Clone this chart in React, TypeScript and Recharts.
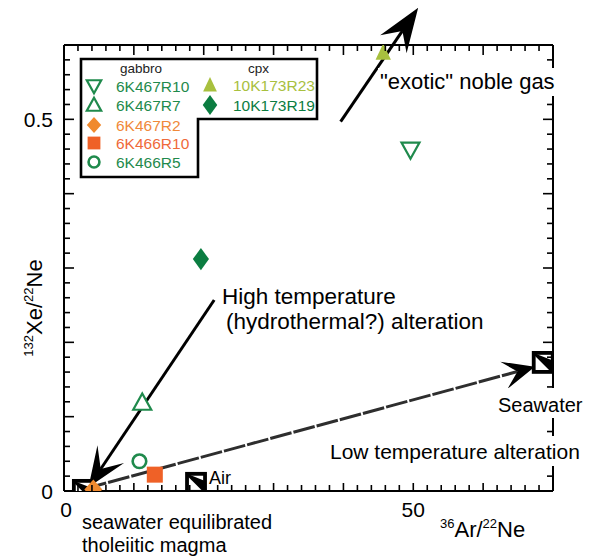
import React from 'react';
import { ScatterChart, Scatter, XAxis, YAxis, ReferenceLine } from 'recharts';

const W = 590;
const H = 558;
const FONT = '"Liberation Sans", Arial, Helvetica, sans-serif';
const NARROW = '"Liberation Sans Narrow", "Arial Narrow", "Liberation Sans", Arial, sans-serif';

// ---- data (x = 36Ar/22Ne, y = 132Xe/22Ne) ----
const gabbro6K467R10 = [{ x: 49.6, y: 0.459 }];
const gabbro6K467R7 = [{ x: 11.2, y: 0.119 }];
const gabbro6K467R2 = [{ x: 4.2, y: 0.002 }];
const gabbro6K466R10 = [{ x: 13.0, y: 0.022 }];
const gabbro6K466R5 = [{ x: 10.8, y: 0.04 }];
const cpx10K173R23 = [{ x: 45.7, y: 0.59 }];
const cpx10K173R19 = [{ x: 19.6, y: 0.312 }];

const endMemberMagma = [{ x: 2.7, y: 0.0015 }];
const endMemberAir = [{ x: 18.9, y: 0.011 }];
const endMemberSeawater = [{ x: 68.6, y: 0.173 }];

// arrows: [start, tip]
const lowTempArrow = [{ x: 3.0, y: 0.003 }, { x: 67.4, y: 0.167 }];
const highTempArrow = [{ x: 21.5, y: 0.257 }, { x: 3.5, y: 0.005 }];
const exoticArrow = [{ x: 39.6, y: 0.497 }, { x: 50.7, y: 0.65 }];

// axes
const xDomain = [0, 70];
const yDomain = [0, 0.6];
const xTickStep = 2;
const yTickStep = 0.02;
const xLabelTicks = [0, 50];
const yLabelTicks = [0, 0.5];

const buildTicks = (max: number, step: number) => {
  const out: number[] = [];
  const n = Math.round(max / step);
  for (let i = 0; i <= n; i++) out.push(Number((i * step).toFixed(4)));
  return out;
};
const xTicks = buildTicks(xDomain[1], xTickStep);
const yTicks = buildTicks(yDomain[1], yTickStep);
const isMajor = (v: number, unit: number) => Math.abs(v / unit - Math.round(v / unit)) < 1e-6;

const GREEN = '#1f8a4c';
const ORANGE_D = '#f08a2e';
const ORANGE_S = '#ef6127';
const YGREEN = '#a8c03e';
const DGREEN = '#0b7d41';

type Kind = 'downOpen' | 'upOpen' | 'diamond' | 'square' | 'circleOpen' | 'upFill' | 'diamondTall' | 'ref';

const drawMarker = (kind: Kind, cx: number, cy: number, color: string, s: number) => {
  const h = s / 2;
  switch (kind) {
    case 'downOpen':
      return <polygon points={`${cx - h},${cy - h * 0.8} ${cx + h},${cy - h * 0.8} ${cx},${cy + h * 1.0}`} fill="#fff" stroke={color} strokeWidth={2.2} />;
    case 'upOpen':
      return <polygon points={`${cx - h},${cy + h * 0.8} ${cx + h},${cy + h * 0.8} ${cx},${cy - h * 1.0}`} fill="#fff" stroke={color} strokeWidth={2.2} />;
    case 'upFill':
      return <polygon points={`${cx - h * 0.85},${cy + h * 0.8} ${cx + h * 0.85},${cy + h * 0.8} ${cx},${cy - h * 1.0}`} fill={color} />;
    case 'diamond':
      return <polygon points={`${cx},${cy - h * 1.1} ${cx + h},${cy} ${cx},${cy + h * 1.1} ${cx - h},${cy}`} fill={color} />;
    case 'diamondTall':
      return <polygon points={`${cx},${cy - h * 1.3} ${cx + h * 0.95},${cy} ${cx},${cy + h * 1.3} ${cx - h * 0.95},${cy}`} fill={color} />;
    case 'square':
      return <rect x={cx - h} y={cy - h} width={s} height={s} fill={color} />;
    case 'circleOpen':
      return <circle cx={cx} cy={cy} r={h * 0.85} fill="#fff" stroke={color} strokeWidth={2.6} />;
    case 'ref':
      return (
        <g>
          <rect x={cx - h} y={cy - h} width={s} height={s} fill="#fff" stroke="#000" strokeWidth={3.8} />
          <polygon points={`${cx - h},${cy - h} ${cx + h},${cy + h} ${cx + h},${cy - h * 0.2}`} fill="#000" />
          <line x1={cx - h} y1={cy - h} x2={cx + h} y2={cy + h} stroke="#000" strokeWidth={2.5} />
        </g>
      );
  }
  return <g />;
};

const shapeOf = (kind: Kind, color: string, s: number) => (p: any) => {
  if (!Number.isFinite(p.cx) || !Number.isFinite(p.cy)) return <g />;
  return drawMarker(kind, p.cx, p.cy, color, s);
};

const series: { name: string; data: { x: number; y: number }[]; kind: Kind; color: string; size: number; text: string }[] = [
  { name: '6K467R10', data: gabbro6K467R10, kind: 'downOpen', color: GREEN, size: 18, text: GREEN },
  { name: '6K467R7', data: gabbro6K467R7, kind: 'upOpen', color: GREEN, size: 18, text: GREEN },
  { name: '6K467R2', data: gabbro6K467R2, kind: 'diamond', color: ORANGE_D, size: 18, text: '#f0893a' },
  { name: '6K466R10', data: gabbro6K466R10, kind: 'square', color: ORANGE_S, size: 16, text: '#ef6a3a' },
  { name: '6K466R5', data: gabbro6K466R5, kind: 'circleOpen', color: GREEN, size: 16, text: GREEN },
  { name: '10K173R23', data: cpx10K173R23, kind: 'upFill', color: YGREEN, size: 18, text: YGREEN },
  { name: '10K173R19', data: cpx10K173R19, kind: 'diamondTall', color: DGREEN, size: 17, text: DGREEN },
];

const makeArrow = (len: number, half: number, notch: number, width: number, color: string, headColor: string, dash?: string) => (p: any) => {
  const { x1, y1, x2, y2 } = p;
  if (![x1, y1, x2, y2].every((v: any) => Number.isFinite(v))) return <g />;
  const dx = x2 - x1;
  const dy = y2 - y1;
  const L = Math.hypot(dx, dy) || 1;
  const ux = dx / L;
  const uy = dy / L;
  const px = -uy;
  const py = ux;
  const bx = x2 - ux * len;
  const by = y2 - uy * len;
  const nx = x2 - ux * notch;
  const ny = y2 - uy * notch;
  const pts = `${x2},${y2} ${bx + px * half},${by + py * half} ${nx},${ny} ${bx - px * half},${by - py * half}`;
  return (
    <g>
      <line x1={x1} y1={y1} x2={nx} y2={ny} stroke={color} strokeWidth={width} strokeDasharray={dash} />
      <polygon points={pts} fill={headColor} />
    </g>
  );
};

const tickText = (v: number) => (v === 0 ? '0' : String(v));

const LeftTick = (p: any) => {
  const { x, y, payload } = p;
  const v = payload.value;
  const major = isMajor(v, 0.1);
  return (
    <g>
      <line x1={x} y1={y} x2={x + (major ? 10 : 6)} y2={y} stroke="#000" strokeWidth={1.6} />
      {yLabelTicks.includes(v) && (
        <text x={x - 11} y={y + 7.5} textAnchor="end" fontSize={21} fontFamily={FONT} fill="#000">
          {tickText(v)}
        </text>
      )}
    </g>
  );
};
const RightTick = (p: any) => {
  const { x, y, payload } = p;
  const major = isMajor(payload.value, 0.1);
  return <line x1={x} y1={y} x2={x - (major ? 10 : 6)} y2={y} stroke="#000" strokeWidth={1.6} />;
};
const BottomTick = (p: any) => {
  const { x, y, payload } = p;
  const v = payload.value;
  const major = isMajor(v, 10);
  return (
    <g>
      <line x1={x} y1={y} x2={x} y2={y - (major ? 8 : 6)} stroke="#000" strokeWidth={1.6} />
      {xLabelTicks.includes(v) && (
        <text x={x + (v === 0 ? 2 : 0)} y={y + 26} textAnchor="middle" fontSize={21} fontFamily={FONT} fill="#000">
          {tickText(v)}
        </text>
      )}
    </g>
  );
};
const TopTick = (p: any) => {
  const { x, y, payload } = p;
  const major = isMajor(payload.value, 10);
  return <line x1={x} y1={y} x2={x} y2={y + (major ? 10 : 6)} stroke="#000" strokeWidth={1.6} />;
};

const legendLeft = series.slice(0, 5);
const legendRight = series.slice(5);

const Overlay = () => (
  <svg width={W} height={H} style={{ position: 'absolute', left: 0, top: 0, pointerEvents: 'none' }}>
    {/* knock-out boxes behind texts crossing the frame */}
    <rect x={378} y={68} width={180} height={28} fill="#fff" />
    <rect x={495} y={388} width={90} height={30} fill="#fff" />
    <rect x={327} y={436} width={258} height={30} fill="#fff" />

    <text x={380} y={89} fontSize={22} fontFamily={FONT} fill="#000">"exotic" noble gas</text>
    <text x={222} y={304} fontSize={22.5} fontFamily={FONT} fill="#000">High temperature</text>
    <text x={226} y={329} fontSize={22.5} fontFamily={FONT} fill="#000">(hydrothermal?) alteration</text>
    <text x={498} y={412} fontSize={20} fontFamily={FONT} fill="#000">Seawater</text>
    <text x={330} y={459} fontSize={21} fontFamily={FONT} fill="#000">Low temperature alteration</text>
    <text x={209} y={484} fontSize={18} fontFamily={FONT} fill="#000">Air</text>
    <text x={82} y={529} fontSize={20} fontFamily={FONT} fill="#000">seawater equilibrated</text>
    <text x={82} y={552} fontSize={20} fontFamily={FONT} fill="#000">tholeiitic magma</text>

    {/* axis titles */}
    <text x={440} y={537} fontSize={22} fontFamily={FONT} fill="#000">
      <tspan fontSize={13} dy={-9}>36</tspan>
      <tspan dy={9}>Ar/</tspan>
      <tspan fontSize={13} dy={-9}>22</tspan>
      <tspan dy={9}>Ne</tspan>
    </text>
    <text x={0} y={0} transform="translate(42,308) rotate(-90)" textAnchor="middle" fontSize={22} fontFamily={FONT} fill="#000">
      <tspan fontSize={13} dy={-9}>132</tspan>
      <tspan dy={9}>Xe/</tspan>
      <tspan fontSize={13} dy={-9}>22</tspan>
      <tspan dy={9}>Ne</tspan>
    </text>

    {/* legend */}
    <path d="M81,59 H317 V119 H198 V177 H81 Z" fill="#fff" stroke="#000" strokeWidth={2.6} />
    <text x={120} y={73} fontSize={13.5} fontFamily={FONT} fill="#222">gabbro</text>
    <text x={248} y={73} fontSize={13.5} fontFamily={FONT} fill="#222">cpx</text>
    {legendLeft.map((s, i) => {
      const cy = [86, 105, 125, 143, 162][i];
      return (
        <g key={s.name}>
          {drawMarker(s.kind, 94, cy, s.color, s.size * 0.8)}
          <text x={116} y={cy + 6} fontSize={15.5} fontFamily={NARROW} fill={s.text}>{s.name}</text>
        </g>
      );
    })}
    {legendRight.map((s, i) => {
      const cy = [85, 105][i];
      return (
        <g key={s.name}>
          {drawMarker(s.kind, 210, cy, s.color, s.size * 0.9)}
          <text x={233} y={cy + 6} fontSize={15.5} fontFamily={NARROW} fill={s.text}>{s.name}</text>
        </g>
      );
    })}
  </svg>
);

export default function App() {
  return (
    <div style={{ position: 'absolute', left: 0, top: 0, width: W, height: H, background: '#fff' }}>
      <ScatterChart width={W} height={H} margin={{ top: 15, right: 10, bottom: 27, left: 4 }}>
        <XAxis xAxisId="b" type="number" dataKey="x" orientation="bottom" domain={xDomain} ticks={xTicks} interval={0}
          height={40} tickSize={0} tickMargin={0} tickLine={false} axisLine={{ stroke: '#000', strokeWidth: 2 }} tick={<BottomTick />} allowDataOverflow />
        <XAxis xAxisId="t" type="number" dataKey="x" orientation="top" domain={xDomain} ticks={xTicks} interval={0}
          height={30} tickSize={0} tickMargin={0} tickLine={false} axisLine={{ stroke: '#000', strokeWidth: 2 }} tick={<TopTick />} allowDataOverflow />
        <YAxis yAxisId="l" type="number" dataKey="y" orientation="left" domain={yDomain} ticks={yTicks} interval={0}
          width={60} tickSize={0} tickMargin={0} tickLine={false} axisLine={{ stroke: '#000', strokeWidth: 2 }} tick={<LeftTick />} allowDataOverflow />
        <YAxis yAxisId="r" type="number" dataKey="y" orientation="right" domain={yDomain} ticks={yTicks} interval={0}
          width={27} tickSize={0} tickMargin={0} tickLine={false} axisLine={{ stroke: '#000', strokeWidth: 2 }} tick={<RightTick />} allowDataOverflow />

        <ReferenceLine xAxisId="b" yAxisId="l" ifOverflow="visible"
          segment={[lowTempArrow[0], lowTempArrow[1]]}
          shape={makeArrow(32, 14, 18, 3, '#2e2e2e', '#000', '22 2')} />
        <ReferenceLine xAxisId="b" yAxisId="l" ifOverflow="visible"
          segment={[highTempArrow[0], highTempArrow[1]]}
          shape={makeArrow(40, 16, 22, 3, '#000', '#000')} />
        <ReferenceLine xAxisId="b" yAxisId="l" ifOverflow="visible"
          segment={[exoticArrow[0], exoticArrow[1]]}
          shape={makeArrow(44, 16, 28, 3, '#000', '#000')} />

        <Scatter name="seawater equilibrated tholeiitic magma" xAxisId="b" yAxisId="l" data={endMemberMagma} isAnimationActive={false} shape={shapeOf('ref', '#000', 18)} />
        <Scatter name="Air" xAxisId="b" yAxisId="l" data={endMemberAir} isAnimationActive={false} shape={shapeOf('ref', '#000', 18)} />
        <Scatter name="Seawater" xAxisId="b" yAxisId="l" data={endMemberSeawater} isAnimationActive={false} shape={shapeOf('ref', '#000', 19)} />

        {series.map((s) => (
          <Scatter key={s.name} name={s.name} xAxisId="b" yAxisId="l" data={s.data} isAnimationActive={false} shape={shapeOf(s.kind, s.color, s.size)} />
        ))}
      </ScatterChart>
      <Overlay />
    </div>
  );
}
